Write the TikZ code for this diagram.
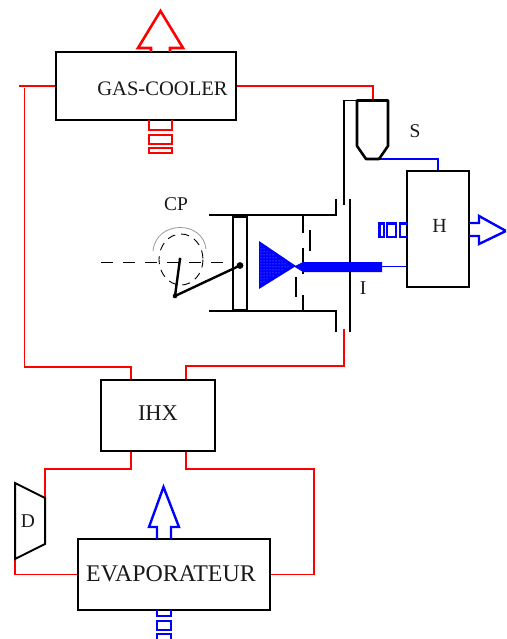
\documentclass[tikz,border=0pt]{standalone}
\usepackage{fontspec}
\setmainfont{Liberation Serif}
\usetikzlibrary{patterns}
\definecolor{rd}{RGB}{255,0,0}
\definecolor{bl}{RGB}{0,0,255}
\tikzset{
  x=1pt,y=-1pt,
  boxn/.style={draw=black,line width=2pt,inner sep=0pt,minimum width=#1},
  lab/.style={inner sep=0pt,text=black!90},
  redl/.style={draw=rd,line width=1.4pt},
  bluel/.style={draw=bl,line width=1.4pt},
  blk/.style={draw=black,line width=2pt},
  thinblk/.style={draw=black,line width=1.4pt},
  redarrow/.style={draw=rd,line width=2.6pt,miter limit=6},
  bluearrow/.style={draw=bl,line width=2.4pt,miter limit=6},
}
\begin{document}
\begin{tikzpicture}[line join=miter]
\useasboundingbox (0,0) rectangle (506,639);
\clip (0,0) rectangle (506,639);
% boxes
\node[boxn=180pt,minimum height=68pt] (gc) at (146,86) {};
\node[boxn=114pt,minimum height=71pt] (ihx) at (158,415.5) {};
\node[boxn=192pt,minimum height=71pt] (eva) at (174,574.5) {};
\node[boxn=62pt,minimum height=116pt] (h) at (438,229) {};
% labels
\node[lab,font=\fontsize{20.6}{22}\selectfont] (gct) at (162.5,89) {GAS-COOLER};
\node[lab,font=\fontsize{22.5}{24}\selectfont] (ihxt) at (158,413) {IHX};
\node[lab,font=\fontsize{23.9}{26}\selectfont] (evat) at (171,574) {EVAPORATEUR};
\node[lab,font=\fontsize{20}{22}\selectfont] (ht) at (439.5,226) {H};
\node[lab,font=\fontsize{19.5}{20}\selectfont] (st) at (415,131) {S};
\node[lab,font=\fontsize{19.5}{20}\selectfont] (cpt) at (176,204) {CP};
\node[lab,font=\fontsize{19.5}{20}\selectfont] (it) at (363,288) {I};
\node[lab,font=\fontsize{19.5}{20}\selectfont] (dt) at (28,521) {D};
% named points
\coordinate (Stl) at (357,100.5);
\coordinate (Stm) at (373,100.5);
\coordinate (Sbr) at (379,159);
\coordinate (Dtr) at (45,498);
\coordinate (Dbl) at (15,559);
\coordinate (Ptop) at (344,205);
\coordinate (Pbot) at (344,329);
\coordinate (barR) at (382,266.5);
% red circuit
\draw[redl] (gc.west) -- (19,86);
\draw[redl] (24.5,88) -- (24.5,367) -- (131,367) -- ([xshift=-27pt]ihx.north);
\draw[redl] ([xshift=28pt]ihx.north) -- (186,366) -- (344,366) -- (Pbot);
\draw[redl] (gc.east) -- (373,86) -- (Stm);
\draw[redl] ([xshift=-27pt]ihx.south) -- (131,469) -- (45,469) -- (Dtr);
\draw[redl] ([xshift=28pt]ihx.south) -- (186,469) -- (314,469) -- (314,574.5) -- (eva.east);
\draw[redl] (eva.west) -- (15,574.5) -- (Dbl);
% blue circuit
\draw[bluel] (Sbr) -- (438,159) -- (h.north);
\draw[bluel] (barR) -- (h.west |- barR);
% detendeur
\draw[blk] (15,483) -- (Dtr) -- (45,544) -- (Dbl) -- cycle;
% separator
\draw[blk,line width=2.6pt,line join=round] (Stl) -- (388,100.5) -- (388,146) -- (Sbr) -- (366,159) -- (357,146) -- cycle;
\draw[thinblk] (Stl) -- (344,100.5) -- (Ptop);
% compressor
\draw[blk] (209,215) -- (335.5,215) -- (335.5,199);
\draw[blk] (209,311) -- (335.5,311) -- (335.5,332);
\draw[blk] (350,199) -- (350,332);
\draw[blk] (233,215.5) rectangle (247,310.5);
\draw[blk,line width=3pt] (233,216) -- (247,216);
\draw[blk,line width=3pt] (233,310) -- (247,310);
\draw[blk,line width=1.6pt] (303,215) -- (303,233);
\draw[blk,line width=1.6pt] (303,248) -- (303,274);
\draw[blk,line width=1.6pt] (303,295) -- (303,311);
\draw[blk,line width=1.6pt] (310,230) -- (310,251);
\draw[blk,line width=1.6pt] (296,277) -- (296,297);
\draw[thinblk,line width=0.9pt,dash pattern=on 12pt off 10pt] (101,262) -- (233,262);
\draw[thinblk,line width=0.9pt,dash pattern=on 8pt off 6pt] (181,259.5) ellipse [x radius=22, y radius=25.5];
\draw[draw=black!40,line width=0.8pt] (153,251) .. controls (156,220) and (203,220) .. (206,249);
\draw[blk,line width=2.4pt] (180,259) -- (175,296) -- (240,265.5);
\fill (180,259) circle (1.7);
\fill (175,296) circle (2.3);
\fill (240,265.5) circle (3.4);
% injector
\fill[bl] (259,241) -- (296,266) -- (259,289) -- cycle;
\fill[pattern=dots,pattern color=white!60!bl] (260,245) -- (290,266) -- (260,285) -- cycle;
\fill[bl] (294,266.5) -- (303,262) -- (382,262) -- (382,272) -- (303,272) -- cycle;
% red arrows
\draw[redarrow] (151,52) -- (151,48) -- (138,48) -- (160.5,11) -- (183,48) -- (170,48) -- (170,52);
\draw[redarrow] (149,120) -- (149,130) -- (172,130) -- (172,120);
\draw[redarrow] (149,135) rectangle (172,144);
\draw[redarrow] (149,148) rectangle (172,153);
% blue arrows
\draw[bluearrow] (157,539) -- (157,527) -- (149,527) -- (163.5,487) -- (179,527) -- (171,527) -- (171,539);
\draw[bluearrow] (157,610) -- (157,616) -- (171,616) -- (171,610);
\draw[bluearrow] (157,621) rectangle (171,630);
\draw[bluearrow] (157,634) rectangle (171,645);
\draw[bluearrow] (469,223) -- (479,223) -- (479,216) -- (506,231) -- (479,244) -- (479,236) -- (469,236);
\draw[bluearrow] (407,223.5) -- (400,223.5) -- (400,237) -- (407,237);
\draw[bluearrow] (387,223.5) rectangle (396,237);
\draw[bluearrow] (379.5,223.5) rectangle (384,237);
\end{tikzpicture}
\end{document}
